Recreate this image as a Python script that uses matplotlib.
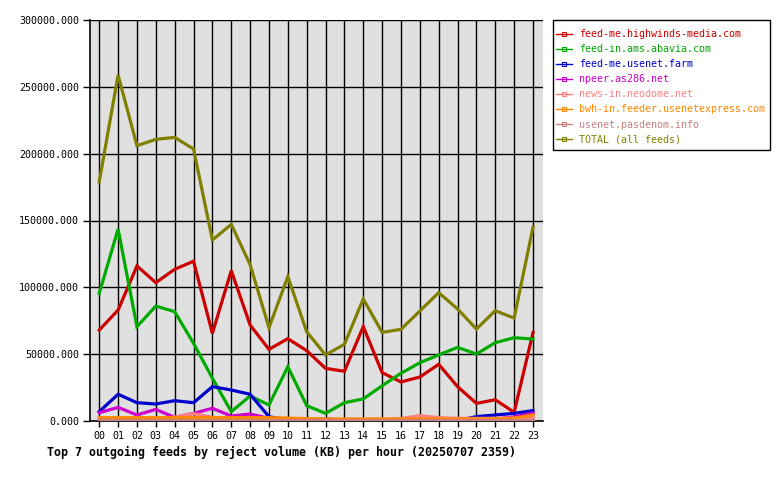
import matplotlib
matplotlib.use("Agg")
from matplotlib import pyplot as plt
from matplotlib.lines import Line2D
from matplotlib.patches import Rectangle
from matplotlib.ticker import FormatStrFormatter, MultipleLocator

hours = ['%02d' % h for h in range(24)]

highwinds = [68000, 83000, 116000, 103500, 113500, 119500, 65600, 112500, 71800, 53600,
             61600, 52600, 39400, 37200, 70600, 36200, 29200, 32900, 42400, 25700,
             13200, 15900, 6500, 66100]
abavia = [95500, 143600, 70600, 86000, 81800, 58100, 32000, 7000, 18700, 12000,
          40600, 11500, 5700, 13700, 16500, 26400, 35700, 43600, 49400, 55100,
          50100, 58600, 62300, 61300]
usenet_farm = [7000, 20000, 13700, 12700, 15200, 13700, 25700, 23200, 20000, 3200,
               800, 600, 1500, 600, 300, 300, 300, 300, 300, 300,
               3300, 4500, 5700, 7800]
npeer = [6200, 10200, 4500, 8700, 2700, 5700, 9500, 3700, 5200, 2000,
         1200, 800, 800, 800, 800, 800, 800, 800, 800, 1000,
         1200, 1500, 3000, 6000]
neodome = [700, 700, 700, 800, 3000, 5500, 2800, 1200, 1200, 1200,
           1200, 1200, 1200, 1200, 1300, 1500, 1800, 4000, 2500, 2000,
           2000, 2000, 2200, 2500]
usenetexpress = [2500, 2500, 2500, 2500, 2500, 2500, 2500, 2500, 2500, 2500,
                 2200, 1800, 1500, 1500, 1500, 1500, 1500, 1500, 1500, 1500,
                 1500, 1500, 2000, 4500]
pasdenom = [900, 900, 900, 900, 900, 900, 900, 900, 900, 900,
            900, 900, 900, 900, 900, 900, 900, 900, 900, 900,
            900, 900, 900, 900]
total = [179000, 258800, 206000, 210700, 212200, 203500, 135400, 147100, 117000, 69800,
         108000, 66800, 49400, 57400, 91300, 66300, 68600, 82300, 96000, 83800,
         68800, 82500, 77000, 145000]

names = ['feed-me.highwinds-media.com', 'feed-in.ams.abavia.com', 'feed-me.usenet.farm',
         'npeer.as286.net', 'news-in.neodome.net', 'bwh-in.feeder.usenetexpress.com',
         'usenet.pasdenom.info', 'TOTAL (all feeds)']
series = [highwinds, abavia, usenet_farm, npeer, neodome, usenetexpress, pasdenom, total]
colors = ['#cc0000', '#00aa00', '#0000cc', '#cc00cc', '#ff8080', '#ff8800', '#c88080', '#808000']

plt.rcParams['font.family'] = 'DejaVu Sans Mono'

fig = plt.figure(figsize=(7.8, 4.8), dpi=100)
ax = fig.add_axes([90 / 780, 59 / 480, 453 / 780, 401 / 480])
ax.set_facecolor('#e0e0e0')

x = list(range(24))
for vals, c in zip(series, colors):
    ax.plot(x, vals, color=c, lw=2.3, solid_joinstyle='miter', zorder=3)

ax.set_xlim(-0.49, 23.53)
ax.set_ylim(0, 300000)
ax.set_xticks(x)
ax.set_xticklabels(hours)
ax.yaxis.set_major_locator(MultipleLocator(50000))
ax.yaxis.set_major_formatter(FormatStrFormatter('%.3f'))
ax.grid(True, color='black', lw=1, zorder=1)
ax.set_axisbelow(True)
ax.tick_params(axis='x', length=4, width=1, pad=3, labelsize=7.2, direction='out')
ax.tick_params(axis='y', length=5, width=1, pad=3, labelsize=7.2, direction='out')
for s in ['top', 'right']:
    ax.spines[s].set_visible(False)
for s in ['left', 'bottom']:
    ax.spines[s].set_linewidth(1.2)

# legend box drawn separately so its size matches the original
fig.add_artist(Rectangle((553 / 780, 1 - 150 / 480), 217 / 780, 130 / 480,
                         transform=fig.transFigure, fill=False, edgecolor='black', lw=1))
handles = [Line2D([], [], color=c, lw=1, marker='s', ms=2.5, mfc='none', mew=0.8) for c in colors]
leg = ax.legend(handles, names, loc='upper left', bbox_to_anchor=(553 / 780, 1 - 26 / 480),
                bbox_transform=fig.transFigure, borderaxespad=0, frameon=False,
                fontsize=7.2, handlelength=1.6, handletextpad=0.7,
                labelspacing=0.51, borderpad=0.3, numpoints=1)
for t, c in zip(leg.get_texts(), colors):
    t.set_color(c)

fig.text(47 / 780, 1 - 452 / 480, 'Top 7 outgoing feeds by reject volume (KB) per hour (20250707 2359)',
         fontsize=8.4, fontweight='bold', ha='left', va='center')

fig.savefig('out.png', dpi=100)
